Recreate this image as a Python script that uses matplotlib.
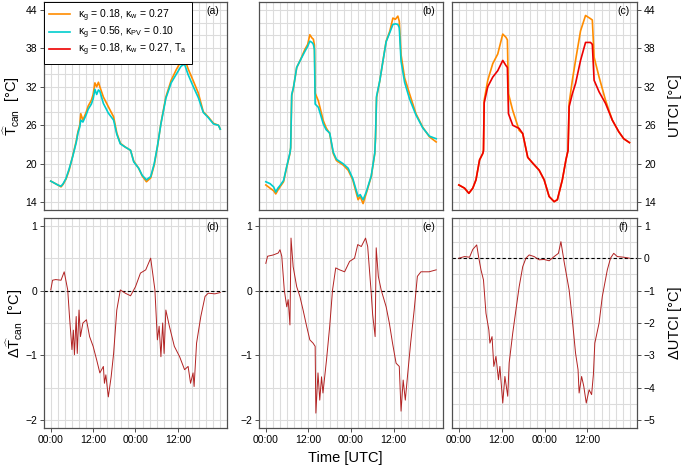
import numpy as np
import matplotlib
matplotlib.use("Agg")
import matplotlib.pyplot as plt

plt.rcParams["font.family"] = ["Liberation Sans", "DejaVu Sans"]
plt.rcParams["mathtext.fontset"] = "custom"
plt.rcParams["mathtext.rm"] = "Liberation Sans"
plt.rcParams["mathtext.it"] = "Liberation Sans:italic"
plt.rcParams["mathtext.bf"] = "Liberation Sans:bold"

###################
# Data (hours UTC) #
###################
# (a) canopy temperature, two parameter sets
a_hours = [0, 1, 2, 2.9, 3.5, 4.3, 5.2, 6.2, 7.2, 7.7, 8.2, 8.5, 9.1, 10.0, 10.6, 11.5, 12.0, 12.5, 13.0, 13.5,
           13.9, 14.9, 16.3, 17.8, 18.7, 19.7, 21.1, 22.6, 23.5, 24.9, 25.9, 27.1, 28.3, 29.3, 30.2, 31.2, 32.6,
           34.1, 35.5, 36.9, 37.5, 37.9, 38.9, 40.3, 41.8, 43.2, 44.6, 46.1, 47.5, 48.0]
a_orange = [17.3, 17.0, 16.7, 16.4, 16.8, 17.6, 19.0, 21.2, 23.5, 25.0, 26.0, 27.8, 26.8, 28.0, 29.0, 29.9, 30.8,
            32.6, 32.0, 32.7, 32.0, 30.4, 28.9, 27.3, 24.8, 23.2, 22.6, 22.1, 20.4, 19.3, 18.1, 17.2, 17.8, 19.8,
            22.6, 26.3, 30.4, 33.0, 34.6, 36.0, 36.8, 36.4, 34.8, 33.0, 31.0, 28.1, 27.3, 26.3, 26.0, 25.4]
a_cyan = [17.3, 17.0, 16.7, 16.5, 16.9, 17.7, 19.2, 21.1, 23.3, 24.8, 25.7, 26.8, 26.5, 27.6, 28.5, 29.3, 30.1,
          31.6, 30.8, 31.5, 31.3, 29.4, 27.9, 26.8, 24.6, 23.1, 22.6, 22.1, 20.3, 19.3, 18.2, 17.5, 18.0, 20.0,
          22.7, 26.2, 30.2, 32.6, 33.9, 35.2, 35.4, 35.5, 33.9, 32.1, 30.3, 28.0, 27.2, 26.2, 26.0, 25.4]

# (b) UTCI, two parameter sets
b_hours = [0, 1.2, 2.2, 2.8, 3.4, 4.0, 5.0, 5.9, 6.8, 7.0, 7.3, 7.8, 8.7, 9.6, 11.0, 11.8, 12.4, 13.0, 13.4, 13.7,
           13.9, 14.8, 16.2, 17.0, 18.0, 19.0, 19.9, 21.8, 23.2, 24.5, 26.0, 26.6, 27.4, 28.3, 29.7, 30.7, 30.9,
           31.2, 32.1, 33.0, 33.9, 34.9, 35.8, 36.5, 37.2, 37.6, 38.1, 39.1, 40.5, 42.3, 44.2, 46.1, 48.0]
b_orange = [16.7, 16.2, 15.8, 15.3, 15.9, 16.4, 17.2, 19.5, 21.6, 22.5, 30.6, 31.9, 35.0, 36.0, 37.8, 38.6, 40.1,
            39.6, 39.4, 38.5, 31.0, 29.8, 26.7, 25.6, 24.7, 21.6, 20.5, 19.8, 19.0, 17.5, 14.4, 14.9, 13.8, 15.4,
            18.0, 21.6, 24.0, 30.3, 32.9, 36.0, 39.1, 40.6, 42.7, 42.5, 43.0, 42.2, 37.0, 33.4, 30.9, 27.8, 25.7,
            24.2, 23.4]
b_cyan = [17.2, 16.9, 16.4, 15.6, 16.2, 16.6, 17.4, 19.6, 21.7, 22.5, 30.8, 31.9, 35.0, 36.0, 37.5, 38.3, 39.1,
          38.9, 38.6, 37.8, 29.3, 28.8, 26.2, 25.3, 24.8, 21.8, 20.7, 20.0, 19.3, 17.7, 14.9, 15.2, 14.4, 15.6,
          18.1, 21.7, 24.0, 30.5, 32.9, 36.0, 39.0, 40.4, 41.7, 41.8, 41.7, 41.2, 36.0, 32.7, 30.1, 27.6, 25.6,
          24.3, 23.9]

# (c) UTCI, with air temperature effect
c_hours = [0, 1.6, 2.8, 3.9, 4.8, 5.8, 6.7, 6.9, 7.1, 8.1, 9.5, 10.9, 12.3, 13.2, 13.6, 13.9, 15.1, 16.9, 17.9,
           19.3, 20.7, 22.5, 23.9, 25.3, 26.7, 27.6, 29.0, 30.0, 30.6, 30.9, 31.8, 32.7, 34.1, 35.5, 36.9, 37.4,
           37.9, 39.3, 41.1, 43.0, 44.8, 46.2, 47.8]
c_orange = [16.7, 16.2, 15.4, 16.2, 17.5, 20.6, 21.6, 22.2, 29.9, 33.0, 35.6, 37.1, 40.2, 39.7, 39.3, 30.9, 28.3,
            25.2, 24.7, 21.0, 20.1, 19.0, 17.5, 14.9, 14.1, 14.4, 17.5, 20.6, 22.1, 29.4, 33.0, 36.1, 40.7, 43.1,
            42.6, 42.4, 36.6, 33.5, 29.9, 26.8, 25.0, 23.9, 23.3]
c_red = [16.7, 16.2, 15.4, 16.2, 17.5, 20.6, 21.6, 22.0, 29.5, 32.0, 33.5, 34.5, 36.1, 35.3, 35.0, 27.8, 26.0,
         25.5, 24.7, 21.0, 20.1, 19.0, 17.5, 14.9, 14.1, 14.4, 17.5, 20.6, 22.1, 28.9, 30.9, 32.5, 36.1, 38.9,
         38.9, 38.6, 33.0, 31.2, 29.4, 26.8, 25.0, 23.9, 23.3]

# (d)-(f) differences
d_hours = [0, 0.5, 1.4, 2.9, 3.8, 4.8, 5.3, 6.0, 6.4, 6.7, 7.2, 7.5, 8.0, 8.4, 9.1, 10.1, 11.0, 12.0, 13.0, 13.9,
           14.9, 15.2, 15.6, 16.3, 17.1, 17.8, 18.7, 19.7, 21.1, 22.6, 24.0, 25.4, 26.9, 28.3, 29.5, 30.2, 30.7,
           31.2, 31.7, 32.1, 32.6, 33.6, 35.0, 36.5, 37.9, 38.9, 39.6, 40.3, 40.6, 41.3, 42.5, 43.7, 44.6, 46.5,
           48.0]
d_delta = [0.01, 0.16, 0.17, 0.16, 0.29, 0.01, -0.40, -0.91, -0.61, -0.99, -0.40, -0.97, -0.30, -0.71, -0.50,
           -0.45, -0.71, -0.86, -1.07, -1.27, -1.17, -1.43, -1.30, -1.64, -1.33, -0.97, -0.30, 0.01, -0.04, -0.08,
           0.06, 0.27, 0.32, 0.50, 0.01, -0.76, -0.55, -1.02, -0.50, -0.97, -0.30, -0.55, -0.86, -1.02, -1.22,
           -1.17, -1.43, -1.27, -1.48, -0.81, -0.40, -0.09, -0.04, -0.05, -0.03]

e_hours = [0, 0.5, 2.1, 3.5, 4.0, 4.5, 5.2, 5.9, 6.3, 6.8, 7.1, 7.7, 8.7, 9.6, 10.5, 11.5, 12.4, 13.3, 13.9, 14.1,
           14.7, 15.2, 15.7, 16.1, 17.1, 18.0, 18.8, 19.7, 20.8, 22.2, 23.6, 25.0, 25.9, 26.9, 28.1, 28.7, 29.7,
           30.1, 30.8, 31.1, 31.7, 32.5, 33.9, 34.8, 35.7, 36.7, 37.6, 38.1, 38.7, 39.3, 39.9, 40.8, 41.8, 42.7,
           43.7, 46.0, 48.0]
e_delta = [0.42, 0.53, 0.55, 0.58, 0.63, 0.53, 0.01, -0.25, -0.14, -0.53, 0.81, 0.37, 0.06, -0.09, -0.30, -0.55,
           -0.76, -0.81, -0.86, -1.89, -1.27, -1.69, -1.33, -1.58, -1.07, -0.55, 0.01, 0.35, 0.32, 0.29, 0.45,
           0.50, 0.71, 0.68, 0.81, 0.68, -0.04, -0.37, -0.71, 0.66, 0.22, 0.01, -0.25, -0.50, -0.81, -1.12, -1.17,
           -1.86, -1.38, -1.69, -1.33, -0.81, -0.30, 0.22, 0.29, 0.29, 0.32]

f_hours = [0, 1.6, 3.0, 3.9, 5.0, 5.6, 6.2, 6.9, 7.6, 8.4, 8.7, 9.3, 9.8, 10.4, 11.1, 11.5, 12.3, 12.9, 13.7, 14.1,
           15.1, 16.0, 16.9, 17.9, 18.8, 19.7, 21.1, 22.5, 23.9, 25.3, 26.7, 27.9, 28.6, 29.5, 30.9, 31.8, 32.7,
           33.4, 33.7, 34.4, 35.0, 35.7, 36.5, 37.2, 37.7, 38.1, 39.3, 40.2, 41.6, 42.5, 43.4, 44.4, 46.2, 47.8]
f_delta = [0.0, 0.05, 0.03, 0.27, 0.41, 0.0, -0.36, -0.67, -1.70, -2.21, -2.62, -2.42, -3.34, -3.03, -3.75,
           -3.34, -4.47, -3.65, -4.26, -3.23, -2.31, -1.59, -0.88, -0.26, 0.0, 0.10, 0.05, -0.05, -0.04, -0.08,
           0.05, 0.15, 0.51, -0.11, -0.98, -1.90, -2.93, -3.44, -4.16, -3.65, -3.95, -4.47, -4.06, -4.21, -3.59,
           -2.62, -2.00, -1.18, -0.36, 0.0, 0.15, 0.05, 0.03, 0.0]

time_ticks = [0, 12, 24, 36]
time_labels = ["00:00", "12:00", "00:00", "12:00"]
legend_labels = [r"κ$_\mathrm{g}$ = 0.18, κ$_\mathrm{w}$ = 0.27",
                 r"κ$_\mathrm{g}$ = 0.56, κ$_\mathrm{PV}$ = 0.10",
                 r"κ$_\mathrm{g}$ = 0.18, κ$_\mathrm{w}$ = 0.27, T$_\mathrm{a}$"]

ORANGE = "#FF8C00"
CYAN = "#00CDCD"
RED = "#EE0000"
DARKRED = "#B22222"

##########
# Layout #
##########
W, H = 685, 466
fig = plt.figure(figsize=(W / 100, H / 100), dpi=100)


def px_axes(left, top, right, bottom):
    return fig.add_axes([left / W, 1 - bottom / H, (right - left) / W, (bottom - top) / H])


def style(ax, ylim, yminor, ymajor, bottom_row, yside):
    ax.set_xlim(-1.92, 49.92)
    ax.set_ylim(*ylim)
    ax.set_xticks(np.arange(0, 49, 2), minor=True)
    ax.set_yticks(yminor, minor=True)
    ax.set_yticks(ymajor)
    ax.grid(which="both", color="#DCDCDC", lw=0.8)
    ax.set_axisbelow(True)
    for s in ax.spines.values():
        s.set_color("#505050")
        s.set_linewidth(0.9)
    ax.tick_params(which="minor", length=0)
    ax.tick_params(which="major", direction="out", length=3, width=0.7, color="#505050",
                   labelsize=7.5, pad=2)
    ax.set_xticks(time_ticks)
    if bottom_row:
        ax.set_xticklabels(time_labels)
    else:
        ax.tick_params(axis="x", length=0, labelbottom=False)
    if yside == "left":
        ax.yaxis.tick_left()
    elif yside == "right":
        ax.yaxis.tick_right()
    else:
        ax.tick_params(axis="y", length=0, labelleft=False)


def panel_label(ax, txt, width_px, height_px):
    ax.text(1 - 14 / width_px, 1 - 9 / height_px, txt, transform=ax.transAxes,
            ha="center", va="center", fontsize=7.5)


top_lim = (12.8, 45.2)
top_minor = np.arange(14, 45, 2)
top_major = np.arange(14, 45, 6)

ax_a = px_axes(44, 2, 227, 210)
ax_b = px_axes(259, 2, 443, 210)
ax_c = px_axes(452, 2, 637, 210)
ax_d = px_axes(44, 218, 227, 428)
ax_e = px_axes(259, 218, 443, 428)
ax_f = px_axes(452, 218, 637, 428)

style(ax_a, top_lim, top_minor, top_major, False, "left")
style(ax_b, top_lim, top_minor, top_major, False, "none")
style(ax_c, top_lim, top_minor, top_major, False, "right")
style(ax_d, (-2.12, 1.12), np.arange(-2, 1.01, 0.5), np.arange(-2, 2, 1), True, "left")
style(ax_e, (-2.12, 1.12), np.arange(-2, 1.01, 0.5), np.arange(-2, 2, 1), True, "left")
style(ax_f, (-5.24, 1.24), np.arange(-5, 1.01, 0.5), np.arange(-5, 2, 1), True, "right")

# top row
la_o, = ax_a.plot(a_hours, a_orange, color=ORANGE, lw=1.2)
la_c, = ax_a.plot(a_hours, a_cyan, color=CYAN, lw=1.2)
ax_b.plot(b_hours, b_orange, color=ORANGE, lw=1.2)
ax_b.plot(b_hours, b_cyan, color=CYAN, lw=1.2)
ax_c.plot(c_hours, c_orange, color=ORANGE, lw=1.2)
lc_r, = ax_c.plot(c_hours, c_red, color=RED, lw=1.2)

# bottom row
for ax, h, v in [(ax_d, d_hours, d_delta), (ax_e, e_hours, e_delta), (ax_f, f_hours, f_delta)]:
    ax.axhline(0, color="black", ls=(0, (3, 2)), lw=0.8)
    ax.plot(h, v, color=DARKRED, lw=0.7)

leg = ax_a.legend([la_o, la_c, lc_r], legend_labels, loc="upper left", borderaxespad=0,
                  fontsize=7.5, frameon=True, fancybox=False, framealpha=1, edgecolor="black",
                  handlelength=2.0, handletextpad=0.8, labelspacing=0.1, borderpad=0.5)
leg.get_frame().set_linewidth(0.7)

for ax, t, w in [(ax_a, "(a)", 183), (ax_b, "(b)", 184), (ax_c, "(c)", 185),
                 (ax_d, "(d)", 183), (ax_e, "(e)", 184), (ax_f, "(f)", 185)]:
    panel_label(ax, t, w, 208 if ax in (ax_a, ax_b, ax_c) else 210)

# axis labels
ax_a.set_ylabel(r"$\widehat{\mathrm{T}}_\mathrm{can}$  [°C]", fontsize=10.5, va="center")
ax_a.yaxis.set_label_coords(-0.175, 0.5)
ax_d.set_ylabel(r"$\Delta\widehat{\mathrm{T}}_\mathrm{can}$  [°C]", fontsize=10.5, va="center")
ax_d.yaxis.set_label_coords(-0.16, 0.5)
ax_c.yaxis.set_label_position("right")
ax_c.set_ylabel("UTCI [°C]", fontsize=10.5, rotation=90, va="center")
ax_c.yaxis.set_label_coords(1.205, 0.5)
ax_f.yaxis.set_label_position("right")
ax_f.set_ylabel("ΔUTCI [°C]", fontsize=10.5, rotation=90, va="center")
ax_f.yaxis.set_label_coords(1.205, 0.5)
fig.text(345 / W, 1 - 458 / H, "Time [UTC]", ha="center", va="center", fontsize=10.5)

fig.savefig("out.png", dpi=100)
